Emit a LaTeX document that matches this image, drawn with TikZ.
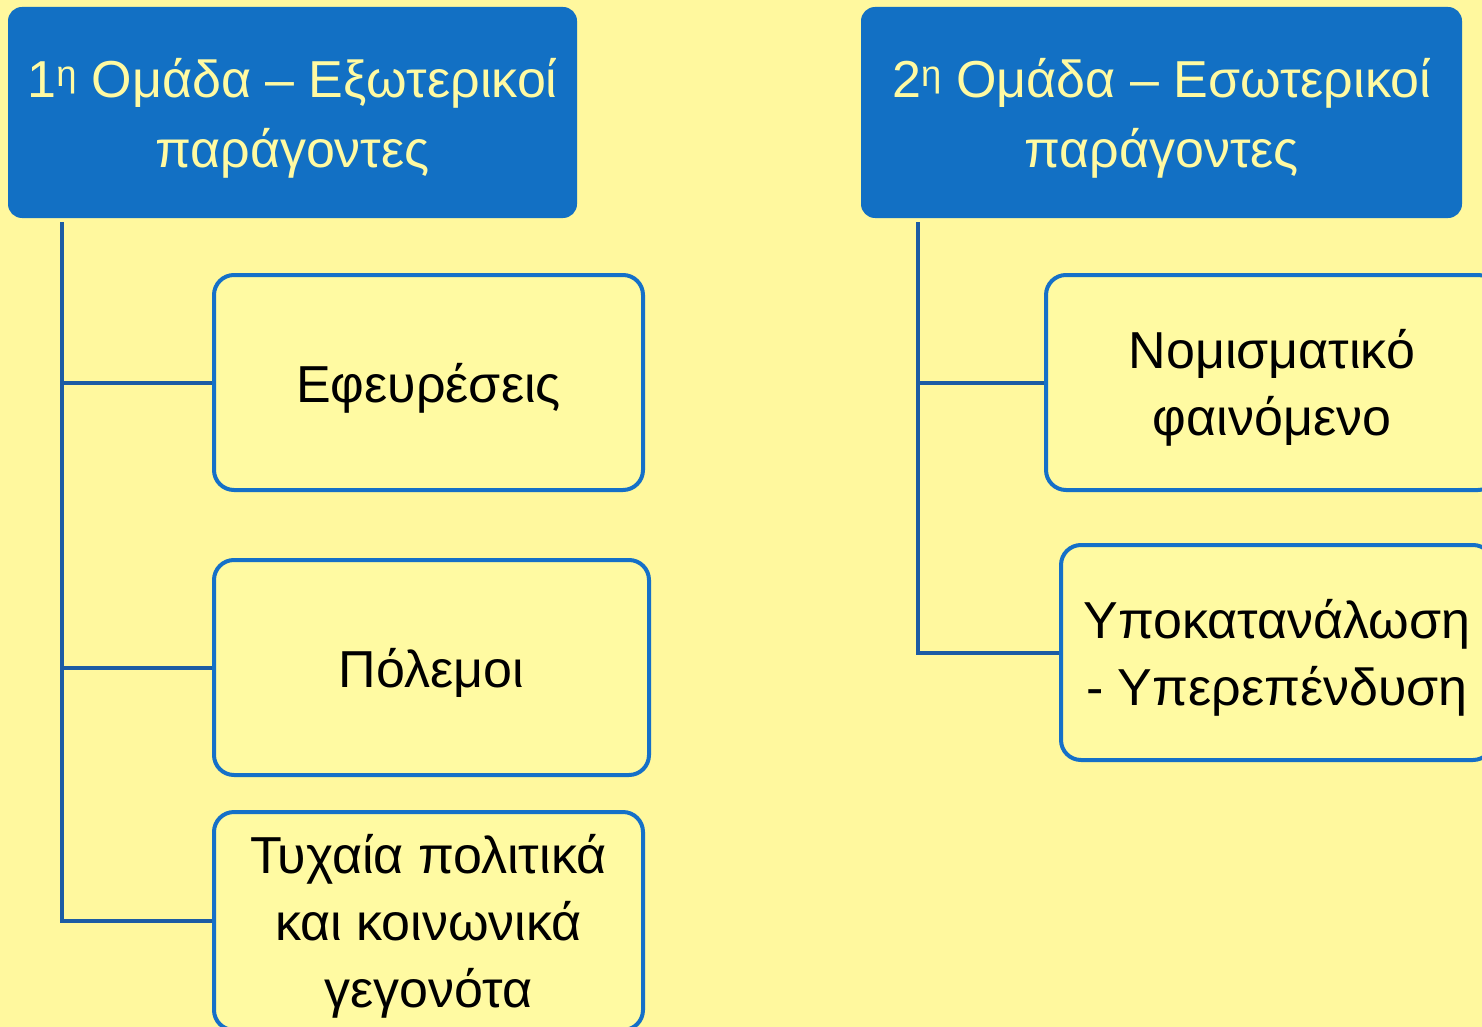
\documentclass[tikz,border=0pt]{standalone}
\usepackage{fontspec}
\setmainfont{Liberation Sans}
\usetikzlibrary{positioning}

\definecolor{bgyellow}{RGB}{255,248,158}
\definecolor{boxyellow}{RGB}{255,250,162}
\definecolor{headblue}{RGB}{18,112,196}
\definecolor{edgeblue}{RGB}{21,112,200}
\definecolor{lineblue}{RGB}{28,92,164}

\tikzset{
    head/.style={rectangle, rounded corners=14pt, fill=headblue, text=boxyellow,
        align=center, minimum height=211pt, inner sep=0pt, text depth=0pt,
        font=\fontsize{52}{70}\selectfont},
    leaf/.style={rectangle, rounded corners=20pt, draw=edgeblue, line width=4pt,
        fill=boxyellow, align=center, minimum height=215pt, inner sep=0pt,
        text depth=0pt, font=\fontsize{52}{67}\selectfont},
    branch/.style={draw=lineblue, line width=4pt}
}

\begin{document}
\begin{tikzpicture}[x=1pt, y=-1pt, node distance=66pt]
    \clip (0,0) rectangle (1482,1027);
    \fill[bgyellow] (0,0) rectangle (1482,1027);

    \node[head, minimum width=569pt] (H1) at (292.5,112.5)
        {1\textsuperscript{η} Ομάδα – Εξωτερικοί\\παράγοντες};
    \node[head, minimum width=601pt] (H2) at (1161.5,112.5)
        {2\textsuperscript{η} Ομάδα – Εσωτερικοί\\παράγοντες};

    \node[leaf, minimum width=429pt] (E) at (428.5,382.5) {Εφευρέσεις};
    \node[leaf, minimum width=435pt] (P) [below=of E, xshift=3pt] {Πόλεμοι};
    \node[leaf, minimum width=429pt, minimum height=218pt] (T) at (428.5,921)
        {Τυχαία πολιτικά\\και κοινωνικά\\γεγονότα};

    \node[leaf, minimum width=452pt] (N) at (1272,382.5) {Νομισματικό\\φαινόμενο};
    \node[leaf, minimum width=432pt] (Y) [below=51pt of N, xshift=5pt]
        {Υποκατανάλωση\\- Υπερεπένδυση};

    \coordinate (S1) at (62,222);
    \coordinate (S2) at (918,222);

    \draw[branch] (S1) |- (E.west);
    \draw[branch] (S1) |- (P.west);
    \draw[branch] (S1) |- (T.west);
    \draw[branch] (S2) |- (N.west);
    \draw[branch] (S2) |- (Y.west);
\end{tikzpicture}
\end{document}
